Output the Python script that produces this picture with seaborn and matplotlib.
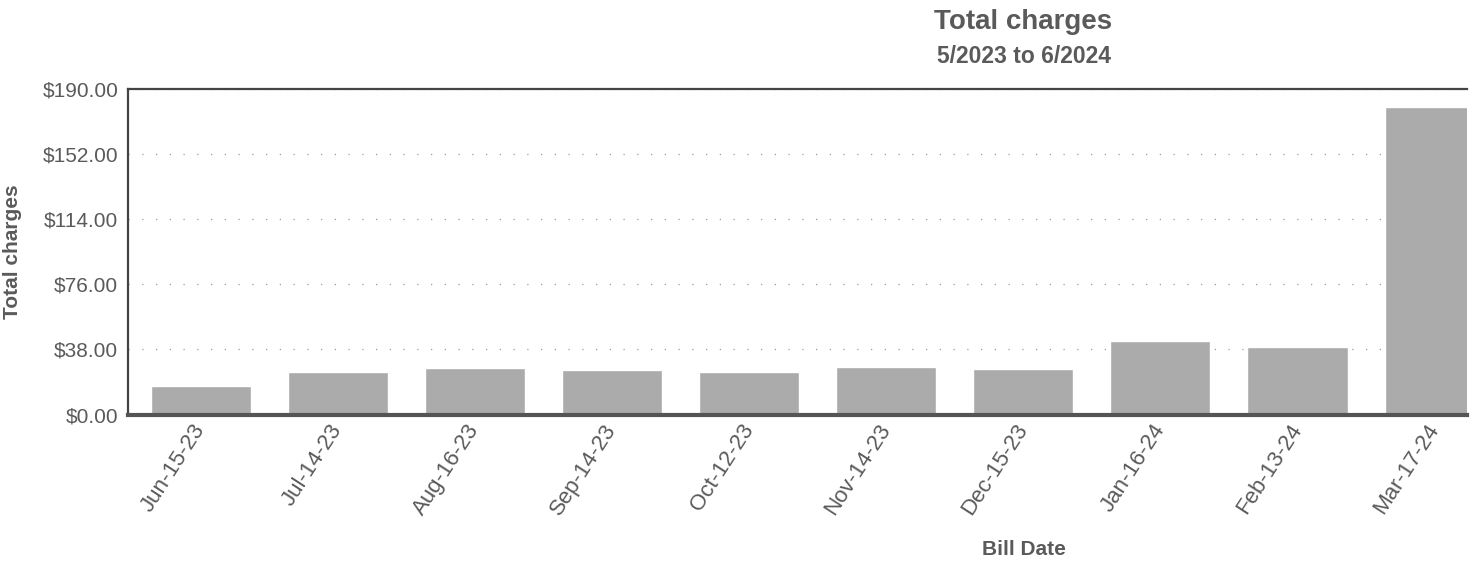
import matplotlib
matplotlib.use("Agg")
import matplotlib.pyplot as plt
import seaborn as sns
import pandas as pd

bill_dates = ["Jun-15-23", "Jul-14-23", "Aug-16-23", "Sep-14-23", "Oct-12-23",
              "Nov-14-23", "Dec-15-23", "Jan-16-24", "Feb-13-24", "Mar-17-24"]
total_charges = [16.7, 24.7, 27.1, 25.9, 25.0, 27.5, 26.3, 42.7, 39.4, 179.6]
y_ticks = [0, 38, 76, 114, 152, 190]
y_tick_labels = ["$0.00", "$38.00", "$76.00", "$114.00", "$152.00", "$190.00"]

sns.set_theme(style="white")
plt.rcParams["font.family"] = ["Liberation Sans", "DejaVu Sans"]

text_color = "#5a5a5a"
df = pd.DataFrame({"Bill Date": bill_dates, "Total charges": total_charges})

fig = plt.figure(figsize=(14.77, 5.68), dpi=100)
ax = fig.add_axes([0.0867, 0.2702, 0.9065, 0.5731])

sns.barplot(data=df, x="Bill Date", y="Total charges", order=bill_dates,
            color="#ababab", saturation=1, width=0.73, ax=ax, zorder=2)

ax.set_xlim(-0.53, 9.236)
ax.set_ylim(0, 190)
ax.set_yticks(y_ticks)
ax.set_yticklabels(y_tick_labels)

ax.grid(axis="y", linestyle=(0, (1, 10)), color="#9a9a9a", linewidth=0.9, zorder=1)
ax.grid(axis="x", visible=False)

for side in ["left", "top"]:
    ax.spines[side].set_color("#444444")
    ax.spines[side].set_linewidth(1.6)
ax.spines["bottom"].set_color("#555555")
ax.spines["bottom"].set_linewidth(3.0)
ax.spines["right"].set_visible(False)

ax.tick_params(axis="y", length=0, pad=7, labelsize=15, labelcolor=text_color)
ax.tick_params(axis="x", length=0, pad=8, labelsize=16, labelcolor=text_color)
for lbl in ax.get_xticklabels():
    lbl.set_rotation(57)
    lbl.set_ha("right")
    lbl.set_va("center")
    lbl.set_rotation_mode("anchor")

ax.set_xlabel("")
ax.set_ylabel("Total charges", fontsize=15, fontweight="bold", color=text_color)
ax.yaxis.set_label_coords(-0.079, 0.5)

fig.text(0.693, 0.962, "Total charges", ha="center", va="center",
         fontsize=20, fontweight="bold", color=text_color)
fig.text(0.693, 0.900, "5/2023 to 6/2024", ha="center", va="center",
         fontsize=16.5, fontweight="bold", color=text_color)
fig.text(0.693, 0.032, "Bill Date", ha="center", va="center",
         fontsize=15, fontweight="bold", color=text_color)

fig.savefig("out.png", dpi=100)
